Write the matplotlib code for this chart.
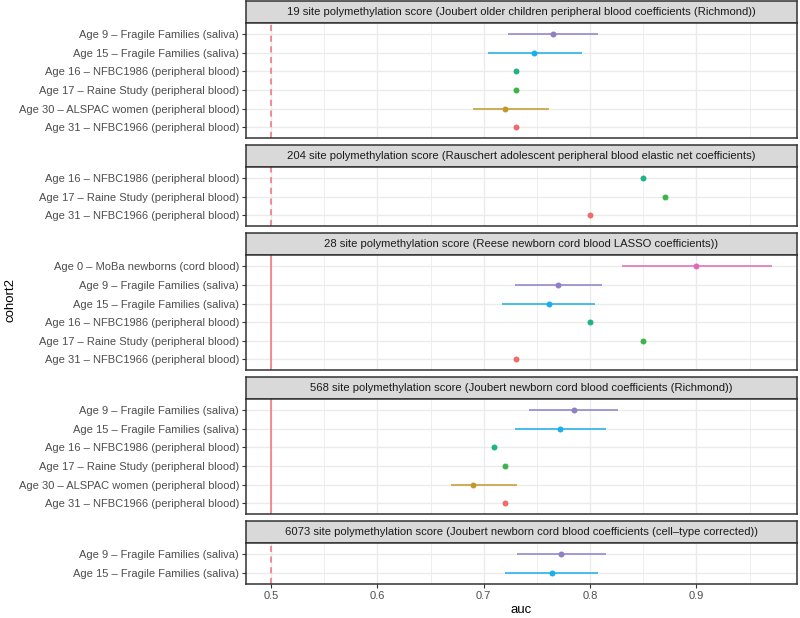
import matplotlib
matplotlib.use('Agg')
import matplotlib.pyplot as plt
from matplotlib.ticker import MultipleLocator

plt.rcParams['font.family'] = ['Liberation Sans', 'DejaVu Sans']

# ---------------- data ----------------
titles = [
    "19 site polymethylation score (Joubert older children peripheral blood coefficients (Richmond))",
    "204 site polymethylation score (Rauschert adolescent peripheral blood elastic net coefficients)",
    "28 site polymethylation score (Reese newborn cord blood LASSO coefficients))",
    "568 site polymethylation score (Joubert newborn cord blood coefficients (Richmond))",
    "6073 site polymethylation score (Joubert newborn cord blood coefficients (cell\u2013type corrected))",
]

p1_cohorts = ["Age 9 \u2013 Fragile Families (saliva)", "Age 15 \u2013 Fragile Families (saliva)",
              "Age 16 \u2013 NFBC1986 (peripheral blood)", "Age 17 \u2013 Raine Study (peripheral blood)",
              "Age 30 \u2013 ALSPAC women (peripheral blood)", "Age 31 \u2013 NFBC1966 (peripheral blood)"]
p1_auc = [0.765, 0.747, 0.730, 0.730, 0.720, 0.730]
p1_lo = [0.723, 0.704, None, None, 0.690, None]
p1_hi = [0.807, 0.792, None, None, 0.761, None]

p2_cohorts = ["Age 16 \u2013 NFBC1986 (peripheral blood)", "Age 17 \u2013 Raine Study (peripheral blood)",
              "Age 31 \u2013 NFBC1966 (peripheral blood)"]
p2_auc = [0.850, 0.870, 0.800]
p2_lo = [None, None, None]
p2_hi = [None, None, None]

p3_cohorts = ["Age 0 \u2013 MoBa newborns (cord blood)", "Age 9 \u2013 Fragile Families (saliva)",
              "Age 15 \u2013 Fragile Families (saliva)", "Age 16 \u2013 NFBC1986 (peripheral blood)",
              "Age 17 \u2013 Raine Study (peripheral blood)", "Age 31 \u2013 NFBC1966 (peripheral blood)"]
p3_auc = [0.900, 0.770, 0.761, 0.800, 0.850, 0.730]
p3_lo = [0.830, 0.729, 0.717, None, None, None]
p3_hi = [0.971, 0.811, 0.805, None, None, None]

p4_cohorts = ["Age 9 \u2013 Fragile Families (saliva)", "Age 15 \u2013 Fragile Families (saliva)",
              "Age 16 \u2013 NFBC1986 (peripheral blood)", "Age 17 \u2013 Raine Study (peripheral blood)",
              "Age 30 \u2013 ALSPAC women (peripheral blood)", "Age 31 \u2013 NFBC1966 (peripheral blood)"]
p4_auc = [0.785, 0.772, 0.710, 0.720, 0.690, 0.720]
p4_lo = [0.743, 0.729, None, None, 0.669, None]
p4_hi = [0.826, 0.815, None, None, 0.731, None]

p5_cohorts = ["Age 9 \u2013 Fragile Families (saliva)", "Age 15 \u2013 Fragile Families (saliva)"]
p5_auc = [0.773, 0.764]
p5_lo = [0.731, 0.720]
p5_hi = [0.815, 0.807]

dashed_ref = [True, True, False, False, True]
x_ticks = [0.5, 0.6, 0.7, 0.8, 0.9]
x_labels = ["0.5", "0.6", "0.7", "0.8", "0.9"]

cohort_colors = {
    "Age 0": "#E06AB8", "Age 9": "#8F80C4", "Age 15": "#1AAEEA", "Age 16": "#1FB387",
    "Age 17": "#3DB44B", "Age 30": "#C3992F", "Age 31": "#F06B6B",
}

panels = [
    (p1_cohorts, p1_auc, p1_lo, p1_hi),
    (p2_cohorts, p2_auc, p2_lo, p2_hi),
    (p3_cohorts, p3_auc, p3_lo, p3_hi),
    (p4_cohorts, p4_auc, p4_lo, p4_hi),
    (p5_cohorts, p5_auc, p5_lo, p5_hi),
]

# ---------------- layout ----------------
W, H = 800, 618
fig = plt.figure(figsize=(W / 100, H / 100), dpi=100)

left_px, right_px = 246, 797
top_px, bottom_px = 1, 584
strip_h = 22
gap = 6.7
units = [len(p[0]) + 0.2 for p in panels]
unit = (bottom_px - top_px - strip_h * len(panels) - gap * (len(panels) - 1)) / sum(units)

xmin, xmax = 0.4765, 0.9945
border = "#333333"

y = top_px
for i, (coh, auc, lo, hi) in enumerate(panels):
    n = len(coh)
    # strip
    sax = fig.add_axes([left_px / W, 1 - (y + strip_h) / H, (right_px - left_px) / W, strip_h / H])
    sax.set_facecolor("#D9D9D9")
    sax.set_xticks([]); sax.set_yticks([])
    for s in sax.spines.values():
        s.set_color(border); s.set_linewidth(1.1)
    sax.text(0.5, 0.5, titles[i], ha="center", va="center", fontsize=8.1, color="#1A1A1A",
             transform=sax.transAxes)
    y += strip_h
    ph = units[i] * unit
    ax = fig.add_axes([left_px / W, 1 - (y + ph) / H, (right_px - left_px) / W, ph / H])
    y += ph + gap

    ax.set_xlim(xmin, xmax)
    ax.set_ylim(n - 1 + 0.6, -0.6)
    ax.set_facecolor("white")
    ax.xaxis.set_major_locator(MultipleLocator(0.1))
    ax.xaxis.set_minor_locator(MultipleLocator(0.05))
    ax.set_xticks(x_ticks)
    ax.grid(True, which="major", color="#EBEBEB", lw=1.0, zorder=0)
    ax.grid(True, which="minor", axis="x", color="#EBEBEB", lw=0.6, zorder=0)
    ax.set_axisbelow(True)
    ax.set_yticks(range(n))
    ax.set_yticklabels(coh, fontsize=8, color="#4D4D4D")
    ax.tick_params(axis="y", length=3, width=0.8, color=border, pad=2)
    ax.tick_params(axis="x", which="minor", length=0)
    if i == len(panels) - 1:
        ax.set_xticklabels(x_labels, fontsize=8, color="#4D4D4D")
        ax.tick_params(axis="x", which="major", length=3, width=0.8, color=border, pad=2)
        ax.set_xlabel("auc", fontsize=9.5, color="black", labelpad=2)
    else:
        ax.tick_params(axis="x", which="major", length=0, labelbottom=False)
    for s in ax.spines.values():
        s.set_color(border); s.set_linewidth(1.1)

    ax.axvline(0.5, color="#EE7078", lw=1.1, ls=(0, (4, 3)) if dashed_ref[i] else "-", zorder=2)

    for j, c in enumerate(coh):
        col = cohort_colors[c.split(" \u2013")[0]]
        if lo[j] is not None:
            ax.hlines(j, lo[j], hi[j], color=col, lw=1.1, zorder=3)
        ax.plot(auc[j], j, "o", color=col, ms=4.3, mec="none", zorder=4)

fig.text(11 / W, 1 - 300 / H, "cohort2", rotation=90, ha="center", va="center", fontsize=9.5)

fig.savefig("out.png", dpi=100)
